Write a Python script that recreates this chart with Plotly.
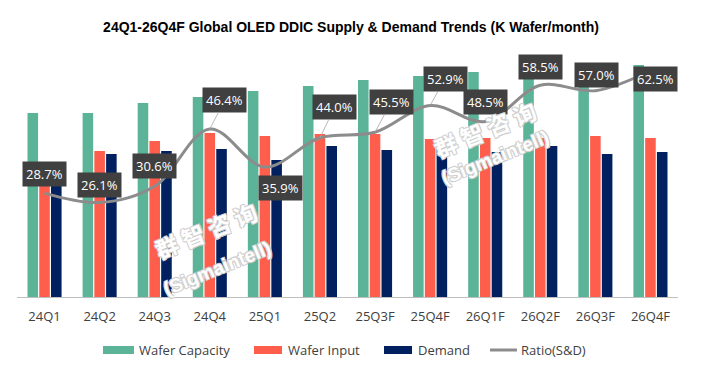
import plotly.graph_objects as go

categories = ["24Q1", "24Q2", "24Q3", "24Q4", "25Q1", "25Q2",
              "25Q3F", "25Q4F", "26Q1F", "26Q2F", "26Q3F", "26Q4F"]
wafer_capacity = [184, 184, 194, 200, 206, 211, 217, 221, 225, 228, 230, 232]
wafer_input = [135, 146, 156, 164, 161, 163, 163, 158, 159, 159, 161, 159]
demand = [128, 143, 146, 148, 137, 151, 147, 149, 145, 151, 143, 145]
ratio_sd = [28.7, 26.1, 30.6, 46.4, 35.9, 44.0, 45.5, 52.9, 48.5, 58.5, 57.0, 62.5]
series_names = ["Wafer Capacity", "Wafer Input", "Demand", "Ratio(S&D)"]

# label offsets (pixels) and whether a leader line is drawn
label_dx = [0, 0, 0, 15, 16, 15, 16, 15, 0, 0, 1, 5]
label_dy = [-19, -18, -20, -29, 21, -31, -30, -27, -19, -18, -16, 8]
label_leader = [False, False, False, True, False, True, True, True, False, False, False, False]

GREEN = "#5BB398"
RED = "#FF5E4D"
NAVY = "#002060"
GRAY = "#8C8C8C"
COLORS = [GREEN, RED, NAVY, GRAY]

# page body has an 8px margin; figure is sized to fit the window
OFF = 8
W, H = 701 - OFF, 380 - OFF
PL, PR, PT, PB = 17, 678, 45, 297          # plot area in window pixels
PLOT_W, PLOT_H = PR - PL, PB - PT


def px(x):
    return (x - PL) / PLOT_W


def py(y):
    return (PB - y) / PLOT_H


fig = go.Figure()
for name, vals, col in zip(series_names[:3], [wafer_capacity, wafer_input, demand], COLORS):
    fig.add_trace(go.Bar(name=name, x=categories, y=vals,
                         marker=dict(color=col, line=dict(width=0))))
fig.add_trace(go.Scatter(name=series_names[3], x=categories, y=ratio_sd, yaxis="y2",
                         mode="lines",
                         line=dict(color=GRAY, width=3, shape="spline", smoothing=1.0)))

annotations = []
for c, r, dx, dy, lead in zip(categories, ratio_sd, label_dx, label_dy, label_leader):
    annotations.append(dict(
        x=c, y=r, xref="x", yref="y2",
        text=f"{r:.1f}%",
        showarrow=True, ax=dx, ay=dy,
        arrowhead=0, arrowwidth=0.8,
        arrowcolor="#A6A6A6" if lead else "rgba(0,0,0,0)",
        bgcolor="#404040", borderpad=3,
        font=dict(family="Open Sans", size=13, color="white"),
    ))

# watermarks
wm_col = "#CFCFCF"
wm_shadow = (f"1px 1px 0 {wm_col}, -1px -1px 0 {wm_col}, 1px -1px 0 {wm_col}, "
             f"-1px 1px 0 {wm_col}")
for (cx, cy), (sx, sy) in [((206, 230), (217, 268)), ((485, 129), (495, 157))]:
    annotations.append(dict(
        x=px(cx), y=py(cy), xref="paper", yref="paper",
        text="群 智 咨 询", showarrow=False, textangle=-22,
        font=dict(family="Noto Sans CJK SC", size=23, color="white",
                  shadow=wm_shadow, weight="bold"),
        yanchor="middle", xanchor="center"))
    annotations.append(dict(
        x=px(sx), y=py(sy), xref="paper", yref="paper",
        text="(Sigmaintell)", showarrow=False, textangle=-22,
        font=dict(family="Liberation Sans", size=19, color="white",
                  shadow=wm_shadow, weight="bold"),
        yanchor="middle", xanchor="center"))

# custom legend (wide swatches as in the reference)
LEG_Y = 350
swatch_x = [(103, 134), (254, 282), (384, 412), (490, 517)]
text_x = [137, 286, 416, 519]
shapes = []
for i, (name, col) in enumerate(zip(series_names, COLORS)):
    x0, x1 = swatch_x[i]
    if i < 3:
        shapes.append(dict(type="rect", xref="paper", yref="paper",
                           x0=px(x0), x1=px(x1), y0=py(LEG_Y + 4), y1=py(LEG_Y - 4),
                           fillcolor=col, line=dict(width=0)))
    else:
        shapes.append(dict(type="line", xref="paper", yref="paper",
                           x0=px(x0), x1=px(x1), y0=py(LEG_Y), y1=py(LEG_Y),
                           line=dict(color=col, width=3)))
    annotations.append(dict(x=px(text_x[i]), y=py(LEG_Y), xref="paper", yref="paper",
                            text=name, showarrow=False, xanchor="left", yanchor="middle",
                            font=dict(family="Open Sans", size=13, color="#404040")))

fig.update_layout(
    width=W, height=H,
    margin=dict(l=PL - OFF, r=W - (PR - OFF), t=PT - OFF, b=H - (PB - OFF)),
    paper_bgcolor="white", plot_bgcolor="white",
    title=dict(text="<b>24Q1-26Q4F Global OLED DDIC Supply & Demand Trends (K Wafer/month)</b>",
               x=(351 - OFF) / W, xanchor="center", y=1 - (27 - OFF) / H, yanchor="middle",
               font=dict(family="Liberation Sans", size=14, color="#000000")),
    barmode="group", bargap=0.36, bargroupgap=0.1,
    xaxis=dict(showline=True, linecolor="#BFBFBF", linewidth=1, ticks="",
               showgrid=False, zeroline=False, ticklabelstandoff=7,
               tickfont=dict(family="Open Sans", size=13, color="#404040")),
    yaxis=dict(range=[0, PLOT_H], visible=False, showgrid=False),
    yaxis2=dict(range=[0, PLOT_H / 3.62], overlaying="y", visible=False, showgrid=False),
    showlegend=False,
    annotations=annotations,
    shapes=shapes,
)

fig.write_html("out.html")
